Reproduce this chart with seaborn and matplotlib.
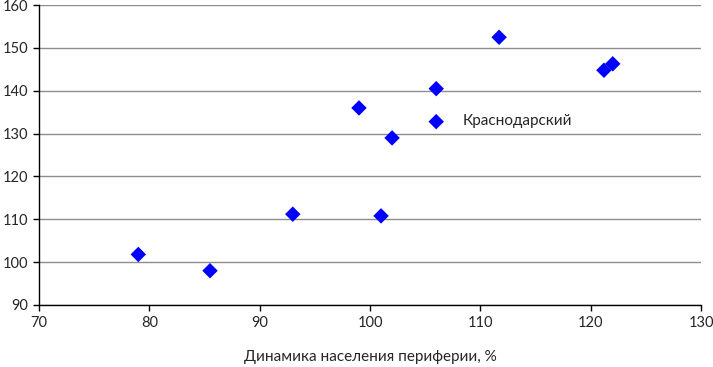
import matplotlib
matplotlib.use('Agg')
import matplotlib.pyplot as plt
import seaborn as sns
import pandas as pd

# population dynamics of periphery (%) vs second indicator
x_vals = [79.0, 85.5, 93.0, 99.0, 101.0, 102.0, 106.0, 106.0, 111.7, 121.2, 122.0]
y_vals = [101.8, 98.0, 111.2, 136.0, 110.8, 129.0, 140.5, 132.8, 152.5, 144.8, 146.3]
label_text = "Краснодарский"
label_pos = (108.4, 132.9)
x_ticks = [70, 80, 90, 100, 110, 120, 130]
y_ticks = [90, 100, 110, 120, 130, 140, 150, 160]
x_title = "Динамика населения периферии, %"

df = pd.DataFrame({'x': x_vals, 'y': y_vals})

sns.set_style('white')
plt.rcParams['font.family'] = ['Lato', 'DejaVu Sans']

fig = plt.figure(figsize=(7.13, 3.67), dpi=100)
ax = fig.add_axes([0.0547, 0.169, 0.9285, 0.817])

for t in y_ticks:
    ax.axhline(t, color='#8c8c8c', lw=1, zorder=0)

sns.scatterplot(data=df, x='x', y='y', ax=ax, marker='D', s=62,
                color='#0000ff', edgecolor='none', linewidth=0, zorder=3)

ax.text(label_pos[0], label_pos[1], label_text, fontsize=11, va='center', ha='left')

ax.set_xlim(70, 130)
ax.set_ylim(90, 160)
ax.set_xticks(x_ticks)
ax.set_yticks(y_ticks)
ax.tick_params(axis='both', direction='out', length=4, width=1, color='black',
               labelsize=10.5, pad=4, left=True, bottom=True)
for side in ['top', 'right']:
    ax.spines[side].set_visible(False)
for side in ['left', 'bottom']:
    ax.spines[side].set_color('black')
    ax.spines[side].set_linewidth(1)

ax.set_xlabel(x_title, fontsize=11, labelpad=14)
ax.set_ylabel('')

fig.savefig('out.png', dpi=100)
